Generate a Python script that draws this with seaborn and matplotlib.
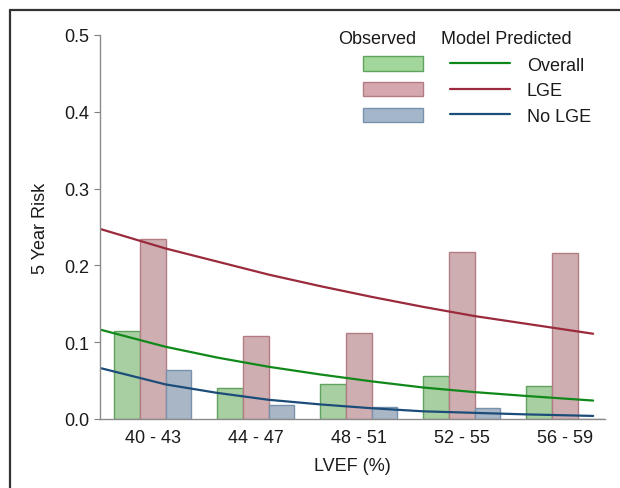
import numpy as np
import pandas as pd
import matplotlib
matplotlib.use('Agg')
import matplotlib.pyplot as plt
from matplotlib.patches import Patch
from matplotlib.lines import Line2D
import seaborn as sns

# observed 5 year risk by LVEF bin
lvef_bins = ['40 - 43', '44 - 47', '48 - 51', '52 - 55', '56 - 59']
obs_overall = [0.114, 0.041, 0.046, 0.056, 0.043]
obs_lge = [0.234, 0.108, 0.112, 0.217, 0.216]
obs_nolge = [0.064, 0.018, 0.016, 0.014, 0.0]

# model predicted curves (LVEF in %)
lvef_line = [39.5, 42, 44, 46, 48, 50, 52, 54, 56, 58.6]
pred_overall = [0.116, 0.094, 0.080, 0.068, 0.058, 0.049, 0.041, 0.035, 0.030, 0.024]
pred_lge = [0.247, 0.222, 0.205, 0.188, 0.173, 0.159, 0.146, 0.134, 0.124, 0.111]
pred_nolge = [0.066, 0.045, 0.034, 0.025, 0.019, 0.014, 0.010, 0.008, 0.006, 0.004]

groups = ['Overall', 'LGE', 'No LGE']
fill_cols = ['#a2d69b', '#d5a8ae', '#a4b6ca']
edge_cols = ['#5fa35c', '#b37c84', '#7891ad']
line_cols = ['#11891a', '#9a2a3c', '#1c4d7a']

sns.set_style('white')
plt.rcParams['font.family'] = ['Liberation Sans', 'DejaVu Sans']
plt.rcParams['text.color'] = '#1a1a1a'
plt.rcParams['axes.labelcolor'] = '#1a1a1a'
plt.rcParams['xtick.labelcolor'] = '#1a1a1a'
plt.rcParams['ytick.labelcolor'] = '#1a1a1a'
fs = 13

df_obs = pd.DataFrame({
    'bin': lvef_bins * 3,
    'risk': obs_overall + obs_lge + obs_nolge,
    'group': [g for g in groups for _ in lvef_bins],
})

fig = plt.figure(figsize=(6.2, 4.89), dpi=100)
ax = fig.add_axes([100 / 620, 69 / 489, 505 / 620, 384 / 489])

sns.barplot(
    data=df_obs, x='bin', y='risk', hue='group',
    order=lvef_bins, hue_order=groups,
    palette=fill_cols, width=0.75, linewidth=1,
    ax=ax, legend=False,
)
for i, g in enumerate(groups):
    for bar in ax.containers[i]:
        bar.set_edgecolor(edge_cols[i])

# map LVEF onto the categorical positions (bin centre 41.5 -> 0, 4 % per bin)
x_pos = [(v - 41.5) / 4 for v in lvef_line]
for vals, c in zip([pred_overall, pred_lge, pred_nolge], line_cols):
    sns.lineplot(x=x_pos, y=vals, color=c, linewidth=1.6, ax=ax)

ax.set_xlim(-0.513, 4.39)
ax.set_ylim(0, 0.5)
ax.set_yticks([0.0, 0.1, 0.2, 0.3, 0.4, 0.5])
ax.set_yticklabels(['0.0', '0.1', '0.2', '0.3', '0.4', '0.5'])
ax.tick_params(axis='y', length=4.5, width=0.8, color='#808080',
               labelsize=fs, pad=3, left=True)
ax.tick_params(axis='x', length=0, labelsize=fs, pad=7)
ax.set_xlabel('LVEF (%)', fontsize=fs, labelpad=8)
ax.set_ylabel('5 Year Risk', fontsize=fs, labelpad=11)
sns.despine(ax=ax)
for s in ['left', 'bottom']:
    ax.spines[s].set_color('#8c8c8c')
    ax.spines[s].set_linewidth(1.0)

# legend: observed bars | model predicted lines
handles = [Patch(facecolor=f, edgecolor=e) for f, e in zip(fill_cols, edge_cols)]
handles += [Line2D([], [], color=c, linewidth=1.6) for c in line_cols]
labels = ['', '', ''] + groups
fig.legend(handles, labels, ncol=2, frameon=False, fontsize=fs,
           loc='upper left', bbox_to_anchor=(349 / 620, 1 - 43 / 489),
           handlelength=3.3, handleheight=0.85, labelspacing=0.45,
           handletextpad=0.95, columnspacing=0.55, borderpad=0.3)
fig.text(377 / 620, 1 - 40 / 489, 'Observed', ha='center', va='center', fontsize=fs)
fig.text(506 / 620, 1 - 40 / 489, 'Model Predicted', ha='center', va='center', fontsize=fs)

# frame lines top and left as in the source figure
fig.add_artist(Line2D([10 / 620, 10 / 620], [0, 1 - 11 / 489], color='#333333',
                      linewidth=1.6, transform=fig.transFigure))
fig.add_artist(Line2D([10 / 620, 1], [1 - 11 / 489, 1 - 11 / 489], color='#333333',
                      linewidth=1.6, transform=fig.transFigure))

fig.savefig('out.png', dpi=100)
